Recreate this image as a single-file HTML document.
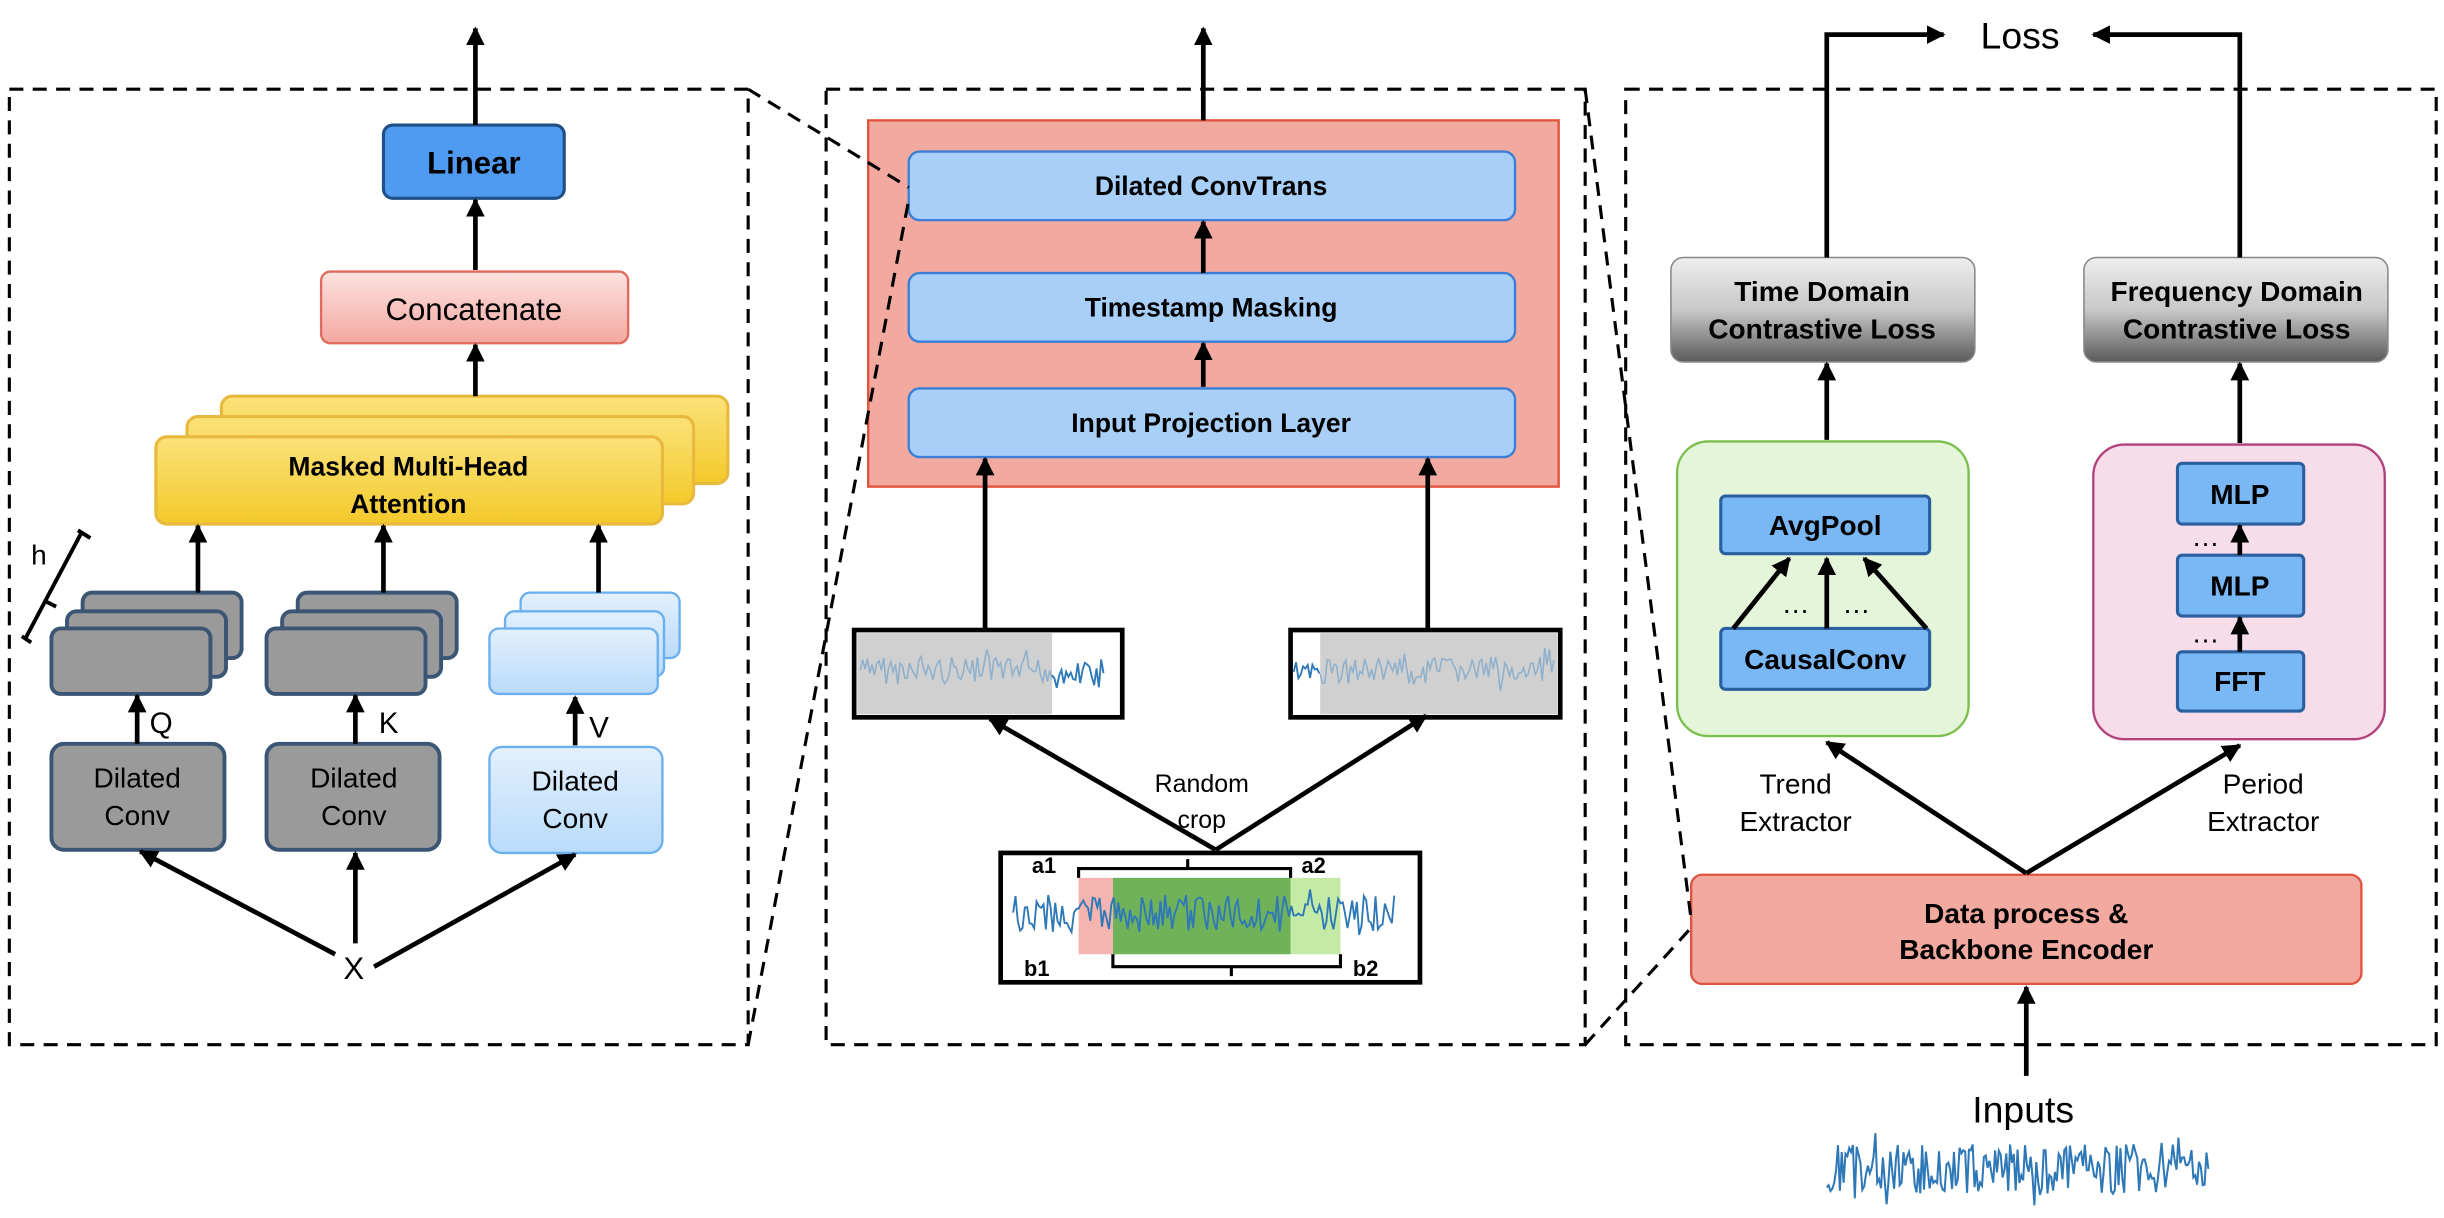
<!DOCTYPE html>
<html><head><meta charset="utf-8"><style>
html,body{margin:0;padding:0;background:#fff;}
svg{display:block;}
text{font-family:"Liberation Sans",Arial,sans-serif;fill:#000;}
</style></head><body>
<svg id="s" width="2444" height="1218" viewBox="0 0 1568 781" xmlns="http://www.w3.org/2000/svg">
<defs>
<marker id="ar" viewBox="0 0 10 10" refX="9" refY="5" markerWidth="4" markerHeight="4" orient="auto-start-reverse"><path d="M0,0L10,5L0,10z" fill="#000"/></marker>
<linearGradient id="gy" x1="0" y1="0" x2="0" y2="1"><stop offset="0" stop-color="#fbe27a"/><stop offset="1" stop-color="#f3c92a"/></linearGradient>
<linearGradient id="gp" x1="0" y1="0" x2="0" y2="1"><stop offset="0" stop-color="#fde3e0"/><stop offset="1" stop-color="#f3a7a0"/></linearGradient>
<linearGradient id="gg" x1="0" y1="0" x2="0" y2="1"><stop offset="0" stop-color="#eeeeee"/><stop offset="0.5" stop-color="#c8c8c8"/><stop offset="1" stop-color="#5a5a5a"/></linearGradient>
<linearGradient id="gb" x1="0" y1="0" x2="0" y2="1"><stop offset="0" stop-color="#e3f0fd"/><stop offset="1" stop-color="#b9dbfa"/></linearGradient>
</defs>
<g fill="none" stroke="#000" stroke-width="2" stroke-dasharray="9,6">
<rect x="6" y="57" width="474" height="613"/>
<rect x="530" y="57" width="487" height="613"/>
<rect x="1043" y="57" width="520" height="613"/>
</g>
<!-- left panel -->
<rect x="246" y="80" width="116" height="47" rx="6" fill="#4f9bf2" stroke="#1f4f85" stroke-width="2"/>
<text x="304" y="111" font-size="20" font-weight="bold" text-anchor="middle">Linear</text>
<rect x="206" y="174" width="197" height="46" rx="6" fill="url(#gp)" stroke="#e06a5f" stroke-width="1.5"/>
<text x="304" y="205" font-size="20" text-anchor="middle">Concatenate</text>
<rect x="142" y="254" width="325" height="56" rx="7" fill="url(#gy)" stroke="#e8b93c" stroke-width="2"/>
<rect x="120" y="267" width="325" height="56" rx="7" fill="url(#gy)" stroke="#e8b93c" stroke-width="2"/>
<rect x="100" y="280" width="325" height="56" rx="7" fill="url(#gy)" stroke="#e8b93c" stroke-width="2"/>
<text x="262" y="305" font-size="17" font-weight="bold" text-anchor="middle">Masked Multi-Head</text>
<text x="262" y="329" font-size="17" font-weight="bold" text-anchor="middle">Attention</text>
<g fill="#9a9a9a" stroke="#3b5574" stroke-width="2.5">
<rect x="53" y="380" width="102" height="42" rx="6"/><rect x="43" y="392" width="102" height="42" rx="6"/><rect x="33" y="403" width="102" height="42" rx="6"/>
<rect x="191" y="380" width="102" height="42" rx="6"/><rect x="181" y="392" width="102" height="42" rx="6"/><rect x="171" y="403" width="102" height="42" rx="6"/>
<rect x="33" y="477" width="111" height="68" rx="8"/><rect x="171" y="477" width="111" height="68" rx="8"/>
</g>
<g fill="url(#gb)" stroke="#6ab0f0" stroke-width="1.5">
<rect x="334" y="380" width="102" height="42" rx="6"/><rect x="324" y="392" width="102" height="42" rx="6"/><rect x="314" y="403" width="108" height="42" rx="6"/>
<rect x="314" y="479" width="111" height="68" rx="8"/>
</g>
<path d="M16 410L52 342M14 408L20 412M50 340L58 345M28 385L36 389" stroke="#000" stroke-width="2.5" fill="none"/>
<text x="20" y="362" font-size="18">h</text>
<text x="96" y="470" font-size="19">Q</text><text x="243" y="470" font-size="19">K</text><text x="378" y="473" font-size="19">V</text>
<g font-size="18" text-anchor="middle">
<text x="88" y="505">Dilated</text><text x="88" y="529">Conv</text>
<text x="227" y="505">Dilated</text><text x="227" y="529">Conv</text>
<text x="369" y="507">Dilated</text><text x="369" y="531">Conv</text>
</g>
<text x="227" y="628" font-size="20" text-anchor="middle">X</text>
<!-- middle panel -->
<rect x="557" y="77" width="443" height="235" fill="#f2a99f" stroke="#e0533f" stroke-width="1.5"/>
<g fill="#a8cff8" stroke="#3a7fd5" stroke-width="1.5">
<rect x="583" y="97" width="389" height="44" rx="7"/><rect x="583" y="175" width="389" height="44" rx="7"/><rect x="583" y="249" width="389" height="44" rx="7"/>
</g>
<g font-size="17" font-weight="bold" text-anchor="middle">
<text x="777" y="125">Dilated ConvTrans</text><text x="777" y="203">Timestamp Masking</text><text x="777" y="277">Input Projection Layer</text>
</g>
<rect x="548" y="404" width="172" height="56" fill="#fff" stroke="#000" stroke-width="3"/>
<rect x="550" y="406" width="125" height="52" fill="#d0d0d0"/>
<rect x="828" y="404" width="173" height="56" fill="#fff" stroke="#000" stroke-width="3"/>
<rect x="847" y="406" width="152" height="52" fill="#d0d0d0"/>
<text x="771" y="508" font-size="16" text-anchor="middle">Random</text>
<text x="771" y="531" font-size="16" text-anchor="middle">crop</text>
<rect x="642" y="547" width="269" height="83" fill="#fff" stroke="#000" stroke-width="3"/>
<rect x="692" y="563" width="22" height="49" fill="#f4b5b0"/>
<rect x="714" y="563" width="114" height="49" fill="#6fb25a"/>
<rect x="828" y="563" width="32" height="49" fill="#c3eba6"/>
<path d="M692 563V557H828V563M762 557V551M714 612V620H860V612M790 620V626" stroke="#000" stroke-width="2" fill="none"/>
<g font-size="14" font-weight="bold"><text x="662" y="560">a1</text><text x="835" y="560">a2</text><text x="657" y="626">b1</text><text x="868" y="626">b2</text></g>
<g id="waves" fill="none" stroke-width="1.2"></g>
<!-- right panel -->
<text x="1296" y="31" font-size="24" text-anchor="middle">Loss</text>
<rect x="1072" y="165" width="195" height="67" rx="8" fill="url(#gg)" stroke="#888" stroke-width="1"/>
<rect x="1337" y="165" width="195" height="67" rx="8" fill="url(#gg)" stroke="#888" stroke-width="1"/>
<g font-size="18" font-weight="bold" text-anchor="middle">
<text x="1169" y="193">Time Domain</text><text x="1169" y="217">Contrastive Loss</text>
<text x="1435" y="193">Frequency Domain</text><text x="1435" y="217">Contrastive Loss</text>
</g>
<rect x="1076" y="283" width="187" height="189" rx="20" fill="#e4f5d9" stroke="#7bbf4e" stroke-width="1.5"/>
<rect x="1343" y="285" width="187" height="189" rx="20" fill="#f7dcea" stroke="#b0417a" stroke-width="1.5"/>
<g fill="#7ab8f5" stroke="#2a5fa0" stroke-width="2">
<rect x="1104" y="318" width="134" height="37" rx="3"/><rect x="1104" y="403" width="134" height="39" rx="3"/>
<rect x="1397" y="297" width="81" height="39" rx="3"/><rect x="1397" y="356" width="81" height="39" rx="3"/><rect x="1397" y="418" width="81" height="38" rx="3"/>
</g>
<g font-size="18" font-weight="bold" text-anchor="middle">
<text x="1171" y="343">AvgPool</text><text x="1171" y="429">CausalConv</text>
<text x="1437" y="323">MLP</text><text x="1437" y="382">MLP</text><text x="1437" y="443">FFT</text>
</g>
<g font-size="18"><text x="1143" y="393">…</text><text x="1182" y="393">…</text><text x="1406" y="350">…</text><text x="1406" y="412">…</text></g>
<g font-size="18" text-anchor="middle">
<text x="1152" y="509">Trend</text><text x="1152" y="533">Extractor</text>
<text x="1452" y="509">Period</text><text x="1452" y="533">Extractor</text>
</g>
<rect x="1085" y="561" width="430" height="70" rx="7" fill="#f2a99f" stroke="#e0533f" stroke-width="1.5"/>
<text x="1300" y="592" font-size="18" font-weight="bold" text-anchor="middle">Data process &amp;</text>
<text x="1300" y="615" font-size="18" font-weight="bold" text-anchor="middle">Backbone Encoder</text>
<text x="1298" y="720" font-size="24" text-anchor="middle">Inputs</text>
<!-- connectors on top -->
<g fill="none" stroke="#000" stroke-width="2" stroke-dasharray="9,6">
<path d="M480 57L583 120M480 670L583 128M1017 57L1085 590M1017 670L1085 595"/>
</g>
<g stroke="#000" stroke-width="3" fill="none" marker-end="url(#ar)">
<path d="M305 80V18"/><path d="M305 173V128"/><path d="M305 254V221"/>
<path d="M127 380V337"/><path d="M246 380V337"/><path d="M384 380V337"/>
<path d="M88 477V446"/><path d="M228 477V446"/><path d="M369 478V447"/>
<path d="M215 612L90 546"/><path d="M228 605V547"/><path d="M240 620L369 548"/>
<path d="M772 77V18"/><path d="M772 175V142"/><path d="M772 248V220"/>
<path d="M632 404V294"/><path d="M916 404V294"/>
<path d="M780 545L635 461"/><path d="M780 545L915 459"/>
<path d="M1172 282V233"/><path d="M1437 284V233"/>
<path d="M1172 165V22H1247"/><path d="M1437 165V22H1343"/>
<path d="M1300 560L1172 476"/><path d="M1300 560L1437 478"/>
<path d="M1300 690V633"/>
<path d="M1112 403L1148 358"/><path d="M1172 403V358"/><path d="M1236 403L1196 358"/>
<path d="M1437 356V337"/><path d="M1437 418V396"/>
</g>
</svg>
<script>
(function(){
var seed=7;function r(){seed=(seed*9301+49297)%233280;return seed/233280;}
function wave(x0,x1,yc,amp,step,col,sw){var d="",y=yc;for(var x=x0;x<=x1;x+=step){y=yc+(r()-0.5)*amp*2+(r()<0.1?(r()-0.5)*amp*2:0);d+=(d?"L":"M")+x.toFixed(1)+" "+y.toFixed(1);}
var p=document.createElementNS("http://www.w3.org/2000/svg","path");p.setAttribute("d",d);p.setAttribute("stroke",col);p.setAttribute("stroke-width",sw);document.getElementById("waves").appendChild(p);}
wave(552,675,430,9,1.5,"#8fb0cc",1);wave(675,708,432,11,1.5,"#2f78b8",1.2);
wave(830,847,432,6,1.5,"#2f78b8",1.2);wave(847,998,430,9,1.5,"#8fb0cc",1);
wave(650,895,586,12,1.5,"#2f78b8",1.2);
wave(1172,1418,750,16,1.2,"#2f78b8",1.3);
})();
</script>
</body></html>
